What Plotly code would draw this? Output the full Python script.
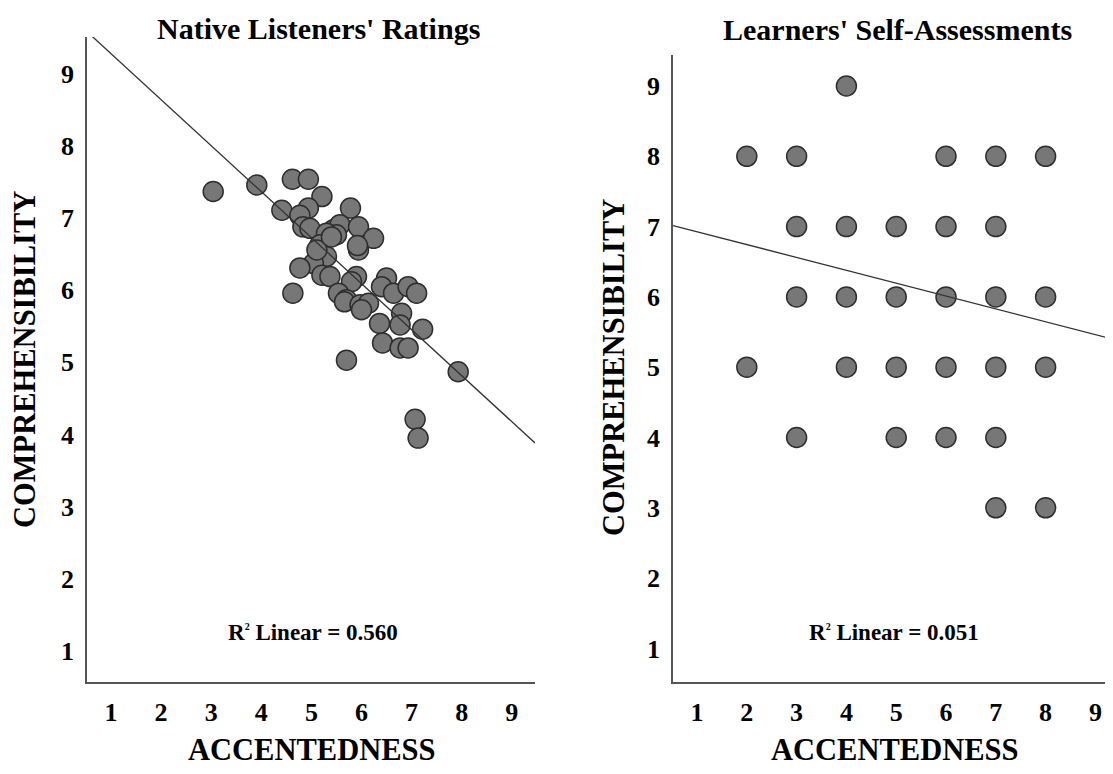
import plotly.graph_objects as go

# ---- Data: Native Listeners' Ratings (left panel) ----
native_acc = [3.04, 3.91, 4.62, 4.94, 5.21, 4.41, 4.94, 4.77, 5.78, 4.83, 4.97, 5.44, 5.57, 5.94,
              6.24, 5.94, 5.92, 5.50, 5.30, 5.17, 5.30, 5.04, 4.77, 5.21, 5.37, 5.90, 5.80, 4.63,
              5.54, 5.70, 5.66, 5.97, 6.14, 6.50, 6.40, 6.64, 6.93, 7.10, 6.80, 6.77, 7.22, 6.36,
              6.42, 6.77, 6.93, 5.70, 7.93, 7.07, 7.13, 6.00, 5.11, 5.40]
native_comp = [7.37, 7.46, 7.54, 7.54, 7.30, 7.11, 7.14, 7.04, 7.14, 6.88, 6.86, 6.84, 6.91, 6.88,
               6.72, 6.56, 6.62, 6.77, 6.79, 6.63, 6.47, 6.37, 6.31, 6.21, 6.19, 6.19, 6.12, 5.96,
               5.96, 5.87, 5.84, 5.80, 5.82, 6.17, 6.05, 5.96, 6.05, 5.96, 5.68, 5.52, 5.46, 5.54,
               5.27, 5.20, 5.20, 5.03, 4.87, 4.21, 3.95, 5.73, 6.56, 6.74]
native_fit = {"intercept": 9.92, "slope": -0.638}
native_r2 = "0.560"

# ---- Data: Learners' Self-Assessments (right panel) ----
learner_acc = [4,
               2, 3, 6, 7, 8,
               3, 4, 5, 6, 7,
               3, 4, 5, 6, 7, 8,
               2, 4, 5, 6, 7, 8,
               3, 5, 6, 7,
               7, 8]
learner_comp = [9,
                8, 8, 8, 8, 8,
                7, 7, 7, 7, 7,
                6, 6, 6, 6, 6, 6,
                5, 5, 5, 5, 5, 5,
                4, 4, 4, 4,
                3, 3]
learner_fit = {"intercept": 7.11, "slope": -0.183}
learner_r2 = "0.051"

tick_vals = [1, 2, 3, 4, 5, 6, 7, 8, 9]

W, H = 1113, 774
OFF = 8  # page body margin offset
FONT = "Liberation Serif"

# pixel geometry of the plot areas (in page pixels)
L_X = (87, 535)
L_Y = (37, 682)
R_X = (673, 1113)
R_Y = (55, 682)

left_xrange = [0.521, 9.463]
left_yrange = [0.567, 9.513]
right_xrange = [0.518, 9.353]
right_yrange = [0.522, 9.441]

marker = dict(size=20, color="#777777", line=dict(color="#2e2e2e", width=1.5))

fig = go.Figure()
fig.add_trace(go.Scatter(x=native_acc, y=native_comp, mode="markers", marker=marker,
                         xaxis="x", yaxis="y", showlegend=False))
fx = [left_xrange[0], left_xrange[1]]
fig.add_trace(go.Scatter(x=fx, y=[native_fit["intercept"] + native_fit["slope"] * v for v in fx],
                         mode="lines", line=dict(color="#333333", width=1.3),
                         xaxis="x", yaxis="y", showlegend=False))

fig.add_trace(go.Scatter(x=learner_acc, y=learner_comp, mode="markers", marker=marker,
                         xaxis="x2", yaxis="y2", showlegend=False))
fx2 = [right_xrange[0], right_xrange[1]]
fig.add_trace(go.Scatter(x=fx2, y=[learner_fit["intercept"] + learner_fit["slope"] * v for v in fx2],
                         mode="lines", line=dict(color="#333333", width=1.3),
                         xaxis="x2", yaxis="y2", showlegend=False))

tickfont = dict(family=FONT, size=26, color="black", weight="bold")
axis_common = dict(showgrid=False, zeroline=False, showline=True, linecolor="#555555",
                   linewidth=1.5, ticks="", tickvals=tick_vals, tickfont=tickfont,
                   fixedrange=True)


def px_dom_x(a, b):
    return [(a - OFF) / W, min(1.0, (b - OFF) / W)]


def px_dom_y(top, bottom):
    return [1 - (bottom - OFF) / H, 1 - (top - OFF) / H]


def pxx(v):
    return (v - OFF) / W


def pxy(v):
    return 1 - (v - OFF) / H


fig.update_layout(
    width=W, height=H,
    margin=dict(l=0, r=0, t=0, b=0),
    paper_bgcolor="white", plot_bgcolor="white",
    xaxis=dict(domain=px_dom_x(*L_X), range=left_xrange, anchor="y", ticklabelstandoff=6, **axis_common),
    yaxis=dict(domain=px_dom_y(*L_Y), range=left_yrange, anchor="x", ticklabelstandoff=6, **axis_common),
    xaxis2=dict(domain=px_dom_x(*R_X), range=right_xrange, anchor="y2", ticklabelstandoff=6, **axis_common),
    yaxis2=dict(domain=px_dom_y(*R_Y), range=right_yrange, anchor="x2", ticklabelstandoff=6, **axis_common),
)

title_font = dict(family=FONT, size=30, color="black", weight="bold")
axis_title_font = dict(family=FONT, size=30.5, color="black", weight="bold")
r2_font = dict(family=FONT, size=23, color="black", weight="bold")

ann = []
ann.append(dict(text="Native Listeners' Ratings", x=pxx(318), y=pxy(28), xref="paper", yref="paper",
                showarrow=False, font=title_font, xanchor="center", yanchor="middle"))
ann.append(dict(text="Learners' Self-Assessments", x=pxx(897), y=pxy(30), xref="paper", yref="paper",
                showarrow=False, font=title_font, xanchor="center", yanchor="middle"))
ann.append(dict(text="ACCENTEDNESS", x=pxx(311), y=pxy(750), xref="paper", yref="paper",
                showarrow=False, font=axis_title_font, xanchor="center", yanchor="middle"))
ann.append(dict(text="ACCENTEDNESS", x=pxx(894), y=pxy(750), xref="paper", yref="paper",
                showarrow=False, font=axis_title_font, xanchor="center", yanchor="middle"))
ann.append(dict(text="COMPREHENSIBILITY", x=pxx(25), y=pxy(360), xref="paper", yref="paper",
                showarrow=False, font=axis_title_font, textangle=-90, xanchor="center", yanchor="middle"))
ann.append(dict(text="COMPREHENSIBILITY", x=pxx(614), y=pxy(368), xref="paper", yref="paper",
                showarrow=False, font=axis_title_font, textangle=-90, xanchor="center", yanchor="middle"))
ann.append(dict(text="R<sup><span style='font-size:10px'>2</span></sup> Linear = " + native_r2,
                x=5.03, y=1.26, xref="x", yref="y", showarrow=False, font=r2_font))
ann.append(dict(text="R<sup><span style='font-size:10px'>2</span></sup> Linear = " + learner_r2,
                x=4.96, y=1.23, xref="x2", yref="y2", showarrow=False, font=r2_font))
fig.update_layout(annotations=ann)

fig.write_html("out.html")
